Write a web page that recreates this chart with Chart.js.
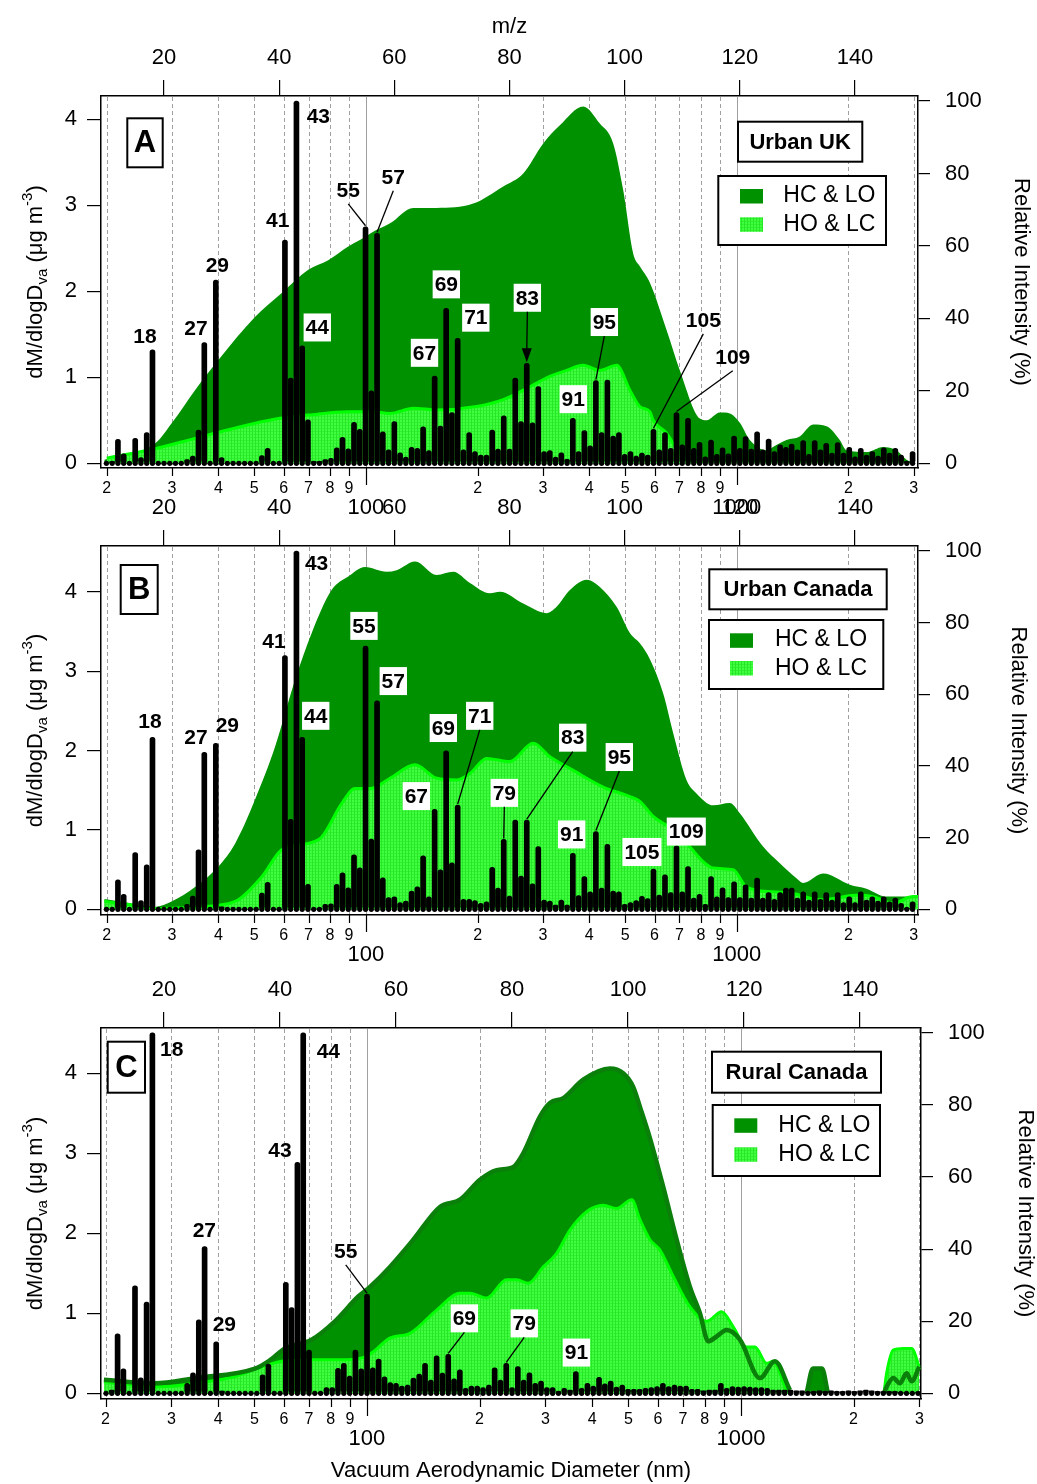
<!DOCTYPE html>
<html><head><meta charset="utf-8">
<script src="https://cdn.jsdelivr.net/npm/chart.js@4.4.1/dist/chart.umd.min.js"></script>
<style>
html,body{margin:0;padding:0;background:#fff;}
#wrap{position:relative;width:1037px;height:1484px;overflow:hidden;background:#fff;}
canvas{position:absolute;left:0;}
</style></head><body>
<div id="wrap">
<canvas id="cA" width="1037" height="530" style="top:0px"></canvas>
<canvas id="cB" width="1037" height="500" style="top:470px"></canvas>
<canvas id="cC" width="1037" height="534" style="top:950px"></canvas>
</div>
<script>
// ---------- categories / tick labels ----------
const mz = [10,11,12,13,14,15,16,17,18,19,20,21,22,23,24,25,26,27,28,29,30,31,32,33,34,35,36,37,38,39,40,
41,42,43,44,45,46,47,48,49,50,51,52,53,54,55,56,57,58,59,60,61,62,63,64,65,66,67,68,69,70,
71,72,73,74,75,76,77,78,79,80,81,82,83,84,85,86,87,88,89,90,91,92,93,94,95,96,97,98,99,100,
101,102,103,104,105,106,107,108,109,110,111,112,113,114,115,116,117,118,119,120,121,122,123,124,125,
126,127,128,129,130,131,132,133,134,135,136,137,138,139,140,141,142,143,144,145,146,147,148,149,150];
const mzTicks = [20,40,60,80,100,120,140];
const diamTicks = [20,30,40,50,60,70,80,90,100,200,300,400,500,600,700,800,900,1000,2000,3000];
const leftTicks = [0,1,2,3,4];
const rightTicks = [0,20,40,60,80,100];

// ---------- mass spectra (relative intensity %, m/z 10..150) ----------
const specUrbanUK = [0,0.5,6.6,2.6,0,6.9,1.6,8.5,31.3,0,0,0,0,0,1.0,2.0,9.2,33.3,0,50.6,1.6,0,0,0,0,0,0,2.1,4.1,0,0,
61.6,23.5,100,32.4,12.0,0.5,0.5,1.0,1.4,4.3,7.2,4.0,11.3,9.4,65.3,20.0,63.5,8.7,3.7,11.5,2.9,1.7,4.4,4.1,10.1,3.5,24.1,10.3,42.8,14.0,
34.5,3.7,8.5,3.2,2.3,2.3,9.2,3.9,13.1,3.9,23.5,11.5,27.6,11.2,21.2,3.2,3.5,1.7,2.9,1.1,12.4,3.2,9.0,4.8,22.8,8.5,23.0,7.5,8.5,2.5,
3.2,2.0,2.8,2.3,9.4,3.7,8.5,4.1,14.0,5.1,12.4,4.1,5.8,1.8,6.4,2.5,4.3,2.6,7.5,4.1,7.4,3.9,8.7,3.7,6.7,
3.2,5.1,4.4,5.3,3.7,6.3,2.5,6.3,3.7,5.5,2.8,5.7,2.8,4.4,1.8,4.1,2.3,3.2,2.0,4.3,2.8,4.1,2.3,0.5,3.2];
const specUrbanCanada = [0,0,8.2,4.2,0,15.8,2.4,12.4,48.0,0,0,0,0,0,1.4,3.7,16.6,43.8,0,46.3,0.7,0,0,0,0,0,0,4.5,7.5,0,0,
70.8,25.1,100,48.0,7.0,0,0.3,1.4,1.5,7.0,10.2,6.0,15.2,11.6,73.5,19.6,58.2,8.8,3.3,3.5,1.9,2.3,5.1,6.3,14.9,3.5,27.9,11.0,44.2,13.0,
29.1,2.8,2.8,2.4,1.7,2.1,11.7,5.9,19.5,3.7,24.9,9.3,24.9,7.1,17.5,2.6,2.3,1.2,2.6,1.2,15.6,3.8,9.1,4.9,21.7,5.9,18.1,5.1,4.9,1.4,
1.9,2.4,3.6,3.0,11.2,4.0,9.6,4.7,17.7,4.9,11.9,3.1,4.2,1.4,9.1,3.5,6.0,3.3,7.7,3.3,6.8,3.1,8.7,3.1,4.7,
2.8,4.7,5.9,5.9,3.1,4.9,2.6,4.9,2.8,4.7,2.6,4.7,1.9,3.5,1.9,4.9,2.6,3.5,2.3,3.5,2.1,3.1,1.7,0.3,2.1];
const specRuralCanada = [0,0.9,16.5,6.8,0,29.8,4.3,25.3,100,0,0,0,0,0,2.8,5.7,20.4,40.7,0,14.3,0.6,0,0,0,0,0,0,5.1,8.1,0,0,
30.8,23.8,64.1,100,12.0,0,0.3,1.6,1.6,6.9,8.3,4.8,12.0,6.8,27.5,7.1,9.5,4.6,3.0,2.8,2.0,2.3,4.2,5.3,8.3,3.7,10.4,5.6,10.8,4.0,
6.5,1.4,2.0,2.0,1.6,2.3,7.1,3.7,8.3,1.6,7.4,3.7,5.7,2.8,3.4,1.6,1.6,0.5,1.4,0.9,6.0,1.4,2.8,2.0,4.4,2.6,3.4,1.7,2.3,1.1,
1.1,1.1,1.4,1.6,1.9,2.8,1.9,2.3,2.0,2.0,1.1,1.1,0.7,0.9,0.9,2.8,1.4,1.9,1.7,1.9,1.7,1.6,1.6,1.4,0.9,
0.9,0.9,0.9,0.7,0.7,0.3,0.5,0.7,0.5,0.7,0.5,0.5,0.7,0.5,0.7,0.9,0.7,0.5,0.5,0.5,0.5,0.3,0,0,0.3];

// ---------- size distributions (diameter nm, dM/dlogDva) ----------
const ukHCLO_d = [19.7,27.0,30.0,34.6,40.0,50.2,59.3,69.9,79.1,89.6,99.4,102.5,116.1,134.1,155.1,194.6,234.5,265.5,300.6,333.3,385.2,427.2,464.1,493.7,525.4,547.6,582.9,646.5,702.1,794.9,828.6,900.1,957.4,1018.8,1084,1202,1252,1361,1478,1606,1745,1895,1975,2237,2480,2694,2867,3050];
const ukHCLO_v = [0.04,0.23,0.47,0.85,1.20,1.70,1.98,2.25,2.36,2.52,2.63,2.67,2.79,2.97,2.97,3.02,3.22,3.37,3.72,3.93,4.15,3.95,3.72,3.18,2.44,2.29,2.10,1.55,1.08,0.52,0.50,0.59,0.58,0.47,0.27,0.15,0.19,0.27,0.31,0.45,0.43,0.27,0.15,0.13,0.19,0.15,0.04,0.0];
const ukHOLC_d = [20.0,27.0,34.6,42.6,58.0,69.9,89.6,103.6,116.1,134.1,155.1,198.8,234.5,276.7,313.3,347.5,385.2,427.2,474,514.8,547.6,582.9,595,646.5,673.5,716.6,746];
const ukHOLC_v = [0.06,0.17,0.29,0.39,0.52,0.56,0.60,0.60,0.58,0.64,0.62,0.66,0.74,0.89,1.01,1.08,1.14,1.08,1.14,0.85,0.66,0.60,0.50,0.35,0.23,0.08,0.0];

const caHCLO_d = [19.7,23.0,27.0,30.0,34.6,40.0,44.4,50.2,56.9,64.4,71.4,80.8,89.6,99.4,113.7,121,135.6,155.1,171.9,190.7,215.9,229.7,265.5,306.9,326.6,354.7,393.5,427.2,474,514.8,547.6,582.9,632.9,673.5,731.6,778.6,863.5,957.4,1018.8,1177,1306,1448,1509,1708,2017,2237,2532,2987,3080];
const caHCLO_v = [0.13,0.08,0.03,0.10,0.28,0.54,0.83,1.38,2.05,2.89,3.48,4.02,4.19,4.31,4.25,4.27,4.38,4.21,4.25,4.11,3.98,4.00,3.85,3.73,3.81,4.02,4.15,4.06,3.81,3.48,3.35,3.15,2.72,2.22,1.63,1.46,1.31,1.34,1.21,0.79,0.58,0.39,0.33,0.45,0.31,0.26,0.16,0.16,0.16];
const caHOLC_d = [19.7,23.0,27.0,34.6,44.4,52.4,59.3,69.9,76.0,86.0,93.4,102.5,116.1,135.6,155.1,175.6,190.7,211.5,244.4,282.4,313.3,362.1,436.1,514.8,547.6,595,673.5,731.6,863.5,977.3,1062,1253,1418,1674,2148,2330,2638,2987,3080];
const caHOLC_v = [0.10,0.06,0.01,0.03,0.10,0.41,0.75,0.83,0.91,1.33,1.52,1.52,1.65,1.82,1.65,1.63,1.71,1.90,1.86,2.09,1.92,1.75,1.54,1.42,1.36,1.17,1.00,0.83,0.52,0.50,0.28,0.22,0.20,0.12,0.18,0.16,0.08,0.16,0.16];

const rcHCLO_d = [19.8,27.1,34.7,50.2,54.5,60.4,71.1,82.1,94.8,101.9,115.2,133,156.7,177.3,200.5,222.2,246.2,261.8,290.1,308.6,334.9,378.7,446.3,484.4,515.2,537,571,619.8,673.2,730.6,777,817.7,861,915.6,993.9,1124,1233,1352,1420,1498,1558,1647,1708,1900,2412,2452,2554,2661,2773,2860,2998];
const rcHCLO_v = [0.17,0.125,0.19,0.31,0.40,0.56,0.67,0.90,1.21,1.33,1.58,1.92,2.33,2.42,2.67,2.79,2.83,3.00,3.46,3.63,3.69,3.92,4.06,4.00,3.83,3.58,3.19,2.58,1.92,1.33,1.00,0.65,0.71,0.79,0.67,0.19,0.40,0.04,null,0,0.31,0.31,0,null,0,0.08,0.19,0.125,0.25,0.15,0.33];
const rcHOLC_d = [19.8,27.1,34.7,44.4,52.3,59.1,69.7,89.1,98.0,104.0,115.2,130.3,153.6,177.3,188.6,208.9,236.3,251.3,270,296.1,321.6,349,386.8,428.3,465.2,510.3,537,571,607.4,659.2,730.6,809.6,888,953.7,1035.6,1090,1171.5,1220,1325,1352,1900,2412,2452,2554,2716,2860,2998];
const rcHOLC_v = [0.145,0.08,0.125,0.21,0.33,0.40,0.42,0.42,0.45,0.52,0.69,0.75,1.04,1.25,1.25,1.19,1.42,1.42,1.375,1.58,1.75,2.04,2.27,2.35,2.31,2.42,2.17,1.92,1.79,1.46,1.08,0.90,1.02,0.83,0.58,0.58,0.375,0.40,0.04,0,null,0,0.25,0.54,0.56,0.56,0.33];

// ---------- peak labels (text, label position in m/z and %) ----------
const labelsUK = [
 {t:'18',m:16.70,p:34.95},{t:'27',m:25.56,p:37.2},{t:'29',m:29.26,p:54.55},{t:'41',m:39.75,p:67.0},
 {t:'43',m:46.80,p:95.7},{t:'44',m:46.62,p:37.5,box:1},{t:'55',m:52.0,p:75.5,lead:1},{t:'57',m:59.82,p:79.1,lead:1},
 {t:'67',m:65.24,p:30.5,box:1},{t:'69',m:69.03,p:49.4,box:1},{t:'71',m:74.15,p:40.2,box:1},
 {t:'83',m:83.1,p:45.7,box:1,arrow:1},{t:'91',m:91.08,p:17.7,box:1},{t:'95',m:96.47,p:39.0,box:1,lead:1},
 {t:'105',m:113.66,p:39.6,lead:1},{t:'109',m:118.77,p:29.4,lead:1}];
const labelsCA = [
 {t:'18',m:17.57,p:52.4},{t:'27',m:25.56,p:47.9},{t:'29',m:31.0,p:51.4},{t:'41',m:39.1,p:74.7},
 {t:'43',m:46.5,p:96.6},{t:'44',m:46.35,p:54.0,box:1},{t:'55',m:54.73,p:79.1,box:1},{t:'57',m:59.82,p:63.7,box:1},
 {t:'67',m:63.82,p:31.6,box:1},{t:'69',m:68.51,p:50.6,box:1},{t:'71',m:74.83,p:54.0,box:1,lead:1},
 {t:'79',m:79.1,p:32.5,box:1,lead:1},{t:'83',m:90.98,p:47.9,box:1,lead:1},{t:'91',m:90.8,p:20.9,box:1},
 {t:'95',m:99.07,p:42.5,box:1,lead:1},{t:'105',m:103.0,p:16.0,box:1},{t:'109',m:110.7,p:21.7,box:1}];
const labelsRC = [
 {t:'18',m:21.33,p:95.6},{t:'44',m:48.33,p:94.8},{t:'43',m:40.0,p:67.5},{t:'27',m:26.95,p:45.3},
 {t:'29',m:30.4,p:19.2},{t:'55',m:51.33,p:39.5,lead:1},{t:'69',m:71.78,p:20.8,box:1,lead:1},
 {t:'79',m:82.1,p:19.4,box:1,lead:1},{t:'91',m:91.1,p:11.3,box:1}];

// ---------- drawing ----------
const FONT = "'Liberation Sans', Arial, Helvetica, sans-serif";
const DARK = '#009100';

function pts(d, v){ return d.map((x,i)=>({x:x, y:v[i]})); }

function lightPattern(ctx){
  const c = document.createElement('canvas'); c.width = 3; c.height = 3;
  const g = c.getContext('2d');
  g.fillStyle = '#40ff40'; g.fillRect(0,0,3,3);
  g.fillStyle = '#26e626'; g.fillRect(0,0,1,3);
  g.fillStyle = '#30f030'; g.fillRect(1,2,2,1);
  return ctx.createPattern(c,'repeat');
}

function leftTitle(ctx, cx, cy){
  const parts = [{t:'dM/dlogD',s:22,dy:0},{t:'va',s:15,dy:5},{t:' (\u03bcg m',s:22,dy:0},{t:'-3',s:15,dy:-10},{t:')',s:22,dy:0}];
  let tot = 0;
  parts.forEach(p=>{ctx.font = p.s+'px '+FONT; p.w = ctx.measureText(p.t).width; tot += p.w;});
  ctx.save(); ctx.translate(cx, cy); ctx.rotate(-Math.PI/2);
  ctx.fillStyle = '#000'; ctx.textBaseline = 'alphabetic'; ctx.textAlign = 'left';
  let x = -tot/2;
  parts.forEach(p=>{ctx.font = p.s+'px '+FONT; ctx.fillText(p.t, x, 8 + p.dy); x += p.w;});
  ctx.restore();
}

function makePanel(cfg){
  const canvas = document.getElementById(cfg.id);
  const ctx = canvas.getContext('2d');
  const pat = lightPattern(ctx);
  const T = cfg.top;
  const decor = {
    id:'decor',
    beforeDatasetsDraw(chart){
      const c = chart.ctx, a = chart.chartArea, xs = chart.scales.x;
      c.save();
      diamTicks.forEach(v=>{
        const px = Math.round(xs.getPixelForValue(v)) + 0.5;
        c.beginPath(); c.lineWidth = 1; c.strokeStyle = '#a0a0a0';
        c.setLineDash((v===100||v===1000) ? [] : [4,3]);
        c.moveTo(px, a.top+1); c.lineTo(px, a.bottom-1); c.stroke();
      });
      c.restore();
    },
    afterDatasetsDraw(chart){
      const c = chart.ctx, xt = chart.scales.xTop, y2 = chart.scales.y2;
      c.save();
      c.font = 'bold 21px '+FONT; c.textAlign = 'center'; c.textBaseline = 'middle';
      cfg.labels.forEach(l=>{
        const px = xt.getPixelForValue(l.m), py = y2.getPixelForValue(l.p);
        const w = c.measureText(l.t).width;
        if (l.box){ c.fillStyle = '#fff'; c.fillRect(px - w/2 - 2, py - 14, w + 4, 28); }
        c.fillStyle = '#000'; c.fillText(l.t, px, py + 1);
        if (l.lead || l.arrow){
          const m = parseInt(l.t,10), val = cfg.spec[mz.indexOf(m)];
          const tx = xt.getPixelForValue(m), ty = y2.getPixelForValue(val) - 1;
          c.strokeStyle = '#000'; c.lineWidth = 1.3; c.beginPath();
          c.moveTo(px, py + 14);
          if (l.arrow){
            c.lineTo(tx, ty - 12); c.stroke();
            c.beginPath(); c.moveTo(tx - 5, ty - 14); c.lineTo(tx + 5, ty - 14); c.lineTo(tx, ty); c.closePath(); c.fill();
          } else { c.lineTo(tx, ty); c.stroke(); }
        }
      });
      c.restore();
    },
    afterDraw(chart){
      const c = chart.ctx, a = chart.chartArea, xs = chart.scales.x;
      c.save();
      c.strokeStyle = '#000'; c.lineWidth = 1.2;
      diamTicks.forEach(v=>{
        const px = Math.round(xs.getPixelForValue(v)) + 0.5;
        const len = (v===100||v===1000) ? 17 : 8;
        c.beginPath(); c.moveTo(px, a.bottom); c.lineTo(px, a.bottom + len); c.stroke();
      });
      leftTitle(c, 34, (a.top + a.bottom)/2);
      const L = cfg.letterBox;
      c.fillStyle = '#fff'; c.fillRect(L[0], L[1]-T, L[2], L[3]);
      c.lineWidth = 2; c.strokeStyle = '#000'; c.strokeRect(L[0], L[1]-T, L[2], L[3]);
      c.fillStyle = '#000'; c.font = 'bold 31px '+FONT; c.textAlign = 'center'; c.textBaseline = 'middle';
      c.fillText(cfg.letter, L[0] + L[2]/2, L[1] - T + L[3]/2 + 1);
      const S = cfg.siteBox;
      c.fillStyle = '#fff'; c.fillRect(S[0], S[1]-T, S[2], S[3]);
      c.strokeRect(S[0], S[1]-T, S[2], S[3]);
      c.fillStyle = '#000'; c.font = 'bold 22px '+FONT;
      c.fillText(cfg.site, S[0] + S[2]/2, S[1] - T + S[3]/2 + 1);
      const G = cfg.legendBox;
      c.fillStyle = '#fff'; c.fillRect(G[0], G[1]-T, G[2], G[3]);
      c.strokeRect(G[0], G[1]-T, G[2], G[3]);
      c.fillStyle = DARK; c.fillRect(cfg.swX, cfg.swY[0]-T, 23, 14.5);
      c.fillStyle = pat; c.fillRect(cfg.swX, cfg.swY[1]-T, 23, 14.5);
      c.fillStyle = '#000'; c.font = '23px '+FONT; c.textAlign = 'left';
      c.fillText('HC & LO', cfg.txtX, cfg.txtY[0]-T + 1);
      c.fillText('HO & LC', cfg.txtX, cfg.txtY[1]-T + 1);
      c.restore();
    }
  };

  const datasets = [
    {type:'scatter', data: mz.map(m=>({x:m, y:0})), xAxisID:'xTop', yAxisID:'y2',
     pointRadius:2.6, pointBackgroundColor:'#000', pointBorderWidth:0, order:0},
    {type:'bar', data: mz.map((m,i)=>({x:m, y:cfg.spec[i]})), xAxisID:'xTop', yAxisID:'y2',
     backgroundColor:'#000', barThickness:5, maxBarThickness:5, grouped:false,
     borderRadius:2.5, borderSkipped:false, order:1},
    {type:'line', data: pts(cfg.lD, cfg.lV), xAxisID:'x', yAxisID:'y', borderColor:'#00ff00', borderWidth:3,
     backgroundColor: pat, fill:'origin', pointRadius:0, cubicInterpolationMode:'monotone', spanGaps:false, order:3},
    {type:'line', data: pts(cfg.dD, cfg.dV), xAxisID:'x', yAxisID:'y', borderWidth:0, borderColor:DARK,
     backgroundColor: DARK, fill:'origin', pointRadius:0, cubicInterpolationMode:'monotone', spanGaps:false, order:4}
  ];
  if (cfg.darkLine){
    datasets.push({type:'line', data: pts(cfg.dD, cfg.dV), xAxisID:'x', yAxisID:'y', borderColor:'#0a7f0a', borderWidth:4.5,
      fill:false, pointRadius:0, cubicInterpolationMode:'monotone', spanGaps:false, order:2});
  }
  const A = cfg.area;
  const H = canvas.height;
  const black = '#000';
  new Chart(ctx, {
    type:'line',
    data:{datasets},
    options:{
      responsive:false, animation:false, events:[], devicePixelRatio:1,
      layout:{padding:0},
      plugins:{legend:{display:false}, tooltip:{enabled:false}},
      scales:{
        x:{type:'logarithmic', position:'bottom', min:cfg.xMin, max:cfg.xMax, offset:false,
           grid:{display:true, drawOnChartArea:false, drawTicks:false},
           border:{display:true, color:black, width:1.5},
           ticks:{autoSkip:false, maxRotation:0, minRotation:0, padding:10.7, color:black,
             font:(c)=>{const v = c.tick ? c.tick.value : 0; return (v===100||v===1000) ? {family:FONT,size:22,lineHeight:0.9} : {family:FONT,size:16,lineHeight:1.2};},
             callback:(v)=>{ if (v===100||v===1000) return ['', String(v)]; const e = Math.pow(10, Math.floor(Math.log10(v)+1e-9)); return String(Math.round(v/e)); }},
           afterBuildTicks:(s)=>{ s.ticks = diamTicks.map(v=>({value:v})); },
           afterFit:(s)=>{ s.height = H - (A.bottom - cfg.top); },
           title:{display:!!cfg.diamTitle, text:'Vacuum Aerodynamic Diameter (nm)', color:black,
             font:{family:FONT,size:22,lineHeight:1}, padding:{top:0,bottom:2}}},
        xTop:{type:'linear', position:'top', min:cfg.mzMin, max:cfg.mzMax, offset:false,
           grid:{display:true, offset:false, drawOnChartArea:false, drawTicks:true, tickLength:16, color:black, tickColor:black, lineWidth:1.2},
           border:{display:true, color:black, width:1.5},
           ticks:{autoSkip:false, maxRotation:0, minRotation:0, padding:8.8, color:black, font:{family:FONT,size:22}},
           afterBuildTicks:(s)=>{ s.ticks = mzTicks.map(v=>({value:v})); },
           afterFit:(s)=>{ s.height = A.top - cfg.top; },
           title:{display:!!cfg.mzTitle, text:'m/z', color:black, font:{family:FONT,size:22,lineHeight:1}, padding:{top:16,bottom:0}}},
        y:{type:'linear', position:'left', min:cfg.yMin, max:cfg.yMax,
           grid:{display:true, drawOnChartArea:false, drawTicks:true, tickLength:14, color:black, tickColor:black, lineWidth:1.2},
           border:{display:true, color:black, width:1.5},
           ticks:{padding:10, color:black, font:{family:FONT,size:22}},
           afterBuildTicks:(s)=>{ s.ticks = leftTicks.map(v=>({value:v})); },
           afterFit:(s)=>{ s.width = A.left; }},
        y2:{type:'linear', position:'right', min:cfg.y2Min, max:cfg.y2Max,
           grid:{display:true, drawOnChartArea:false, drawTicks:true, tickLength:12, color:black, tickColor:black, lineWidth:1.2},
           border:{display:true, color:black, width:1.5},
           ticks:{padding:15, color:black, font:{family:FONT,size:22}},
           afterBuildTicks:(s)=>{ s.ticks = rightTicks.map(v=>({value:v})); },
           afterFit:(s)=>{ s.width = 1037 - A.right; },
           title:{display:true, text:'Relative Intensity (%)', color:black, font:{family:FONT,size:22,lineHeight:1}, padding:{top:cfg.rtPad,bottom:0}}}
      }
    },
    plugins:[decor]
  });
}

makePanel({id:'cA', top:0, area:{top:96,bottom:468,left:101,right:918},
  xMin:19.3, xMax:3080, mzMin:9.06, mzMax:150.94, yMin:-0.055, yMax:4.271, y2Min:-1.30, y2Max:101.4,
  spec:specUrbanUK, dD:ukHCLO_d, dV:ukHCLO_v, lD:ukHOLC_d, lV:ukHOLC_v, labels:labelsUK,
  mzTitle:true, diamTitle:false, rtPad:5,
  letter:'A', letterBox:[127.3,118.3,35.4,49], site:'Urban UK', siteBox:[738,121.7,124.3,40],
  legendBox:[718.3,176,167.7,69], swX:740, swY:[189,217.3], txtX:783.3, txtY:[195,223.3]});

makePanel({id:'cB', top:470, area:{top:546,bottom:915,left:101,right:918},
  xMin:19.3, xMax:3080, mzMin:9.06, mzMax:150.94, yMin:-0.0718, yMax:4.5756, y2Min:-1.59, y2Max:101.4,
  spec:specUrbanCanada, dD:caHCLO_d, dV:caHCLO_v, lD:caHOLC_d, lV:caHOLC_v, labels:labelsCA,
  mzTitle:false, diamTitle:false, rtPad:8,
  letter:'B', letterBox:[120.7,565,37,49], site:'Urban Canada', siteBox:[709.3,569.3,177.4,40],
  legendBox:[709,620,174.3,69], swX:730, swY:[633.3,661], txtX:775, txtY:[639,667.3]});

makePanel({id:'cC', top:950, area:{top:1028,bottom:1399,left:101,right:921},
  xMin:19.45, xMax:3030, mzMin:9.14, mzMax:150.5, yMin:-0.071, yMax:4.566, y2Min:-1.58, y2Max:101.35,
  spec:specRuralCanada, dD:rcHCLO_d, dV:rcHCLO_v, lD:rcHOLC_d, lV:rcHOLC_v, labels:labelsRC, darkLine:true,
  mzTitle:false, diamTitle:true, rtPad:1,
  letter:'C', letterBox:[107.7,1041.7,37.3,51], site:'Rural Canada', siteBox:[712,1051.7,169,41],
  legendBox:[712.7,1105,167.3,71], swX:734.3, swY:[1118.3,1147.3], txtX:778.3, txtY:[1125,1153.3]});
</script>
</body></html>
